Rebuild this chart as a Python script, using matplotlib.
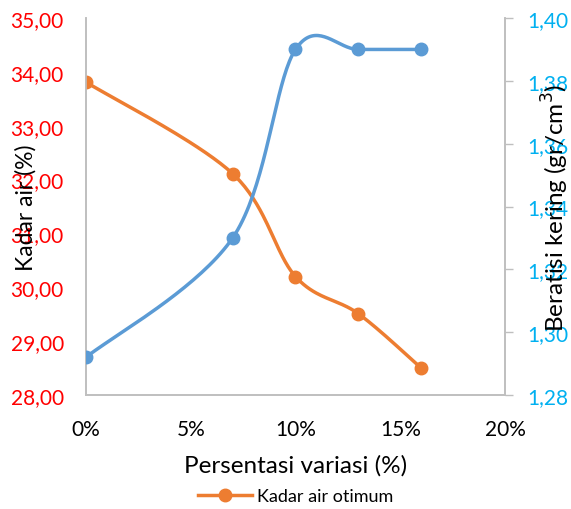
import numpy as np
import matplotlib.pyplot as plt

# data
variasi = [0.00, 0.07, 0.10, 0.13, 0.16]
kadar_air = [33.81, 32.11, 30.20, 29.51, 28.50]
berat_isi = [1.292, 1.330, 1.390, 1.390, 1.390]

x_ticks = [0.00, 0.05, 0.10, 0.15, 0.20]
x_labels = ['0%', '5%', '10%', '15%', '20%']
left_ticks = [28, 29, 30, 31, 32, 33, 34, 35]
right_ticks = [1.28, 1.30, 1.32, 1.34, 1.36, 1.38, 1.40]

ORANGE = '#ED7D31'
BLUE = '#5B9BD5'
GRID = '#BFBFBF'

plt.rcParams['font.family'] = ['Lato', 'DejaVu Sans']


def excel_smooth(xs, ys, xr, yr, n=40):
    # bezier smoothing like excel, done in normalised axis space
    px = (np.asarray(xs) - xr[0]) / (xr[1] - xr[0])
    py = (np.asarray(ys) - yr[0]) / (yr[1] - yr[0])
    P = np.column_stack([px, py])
    P = np.vstack([P[0], P, P[-1]])
    out = []
    t = np.linspace(0, 1, n)[:, None]
    for i in range(1, len(P) - 2):
        p0, p3 = P[i], P[i + 1]
        c1 = p0 + (P[i + 1] - P[i - 1]) / 6
        c2 = p3 - (P[i + 2] - P[i]) / 6
        seg = ((1 - t) ** 3) * p0 + 3 * ((1 - t) ** 2) * t * c1 + 3 * (1 - t) * t ** 2 * c2 + t ** 3 * p3
        out.append(seg)
    out = np.vstack(out)
    return (out[:, 0] * (xr[1] - xr[0]) + xr[0],
            out[:, 1] * (yr[1] - yr[0]) + yr[0])


def comma(v):
    return ('%.2f' % v).replace('.', ',')


fig = plt.figure(figsize=(5.71, 5.10), dpi=100)
ax = fig.add_axes([0.1506, 0.2235, 0.7338, 0.7392])
ax2 = ax.twinx()

xr = (0, 0.2)
yl = (28, 35)
yr = (1.28, 1.40)

sx, sy = excel_smooth(variasi, kadar_air, xr, yl)
ax.plot(sx, sy, color=ORANGE, lw=2.5, zorder=3)
ax.plot(variasi, kadar_air, 'o', color=ORANGE, ms=9, zorder=4)

bx, by = excel_smooth(variasi, berat_isi, xr, yr)
ax2.plot(bx, by, color=BLUE, lw=2.5, zorder=3)
ax2.plot(variasi, berat_isi, 'o', color=BLUE, ms=9, zorder=4)

ax.set_xlim(*xr)
ax.set_ylim(*yl)
ax2.set_ylim(*yr)

ax.set_xticks(x_ticks)
ax.set_xticklabels(x_labels, fontsize=15)
ax.set_yticks(left_ticks)
ax.set_yticklabels([comma(v) for v in left_ticks], fontsize=15, color='red')
ax2.set_yticks(right_ticks)
ax2.set_yticklabels([comma(v) for v in right_ticks], fontsize=15, color='#00B0F0')

ax.tick_params(axis='x', length=0, pad=17)
ax.tick_params(axis='y', length=0, pad=16)
ax2.tick_params(axis='y', length=5.5, color=GRID, pad=10.5, width=1)

for a in (ax, ax2):
    a.spines['top'].set_visible(False)
    for s in ('left', 'right', 'bottom'):
        a.spines[s].set_color(GRID)
        a.spines[s].set_linewidth(1.2)

ax.set_xlabel('Persentasi variasi (%)', fontsize=17.5, labelpad=11)
ax.set_ylabel('Kadar air (%)', fontsize=16.5)
ax.yaxis.set_label_coords(-0.117, 0.5)
ax2.set_ylabel('Beratisi kering (gr/cm$^3$)', fontsize=17.5)
ax2.yaxis.set_label_coords(1.083, 0.5)

leg_handle = plt.Line2D([], [], color=ORANGE, lw=2.5, marker='o', ms=9)
fig.legend([leg_handle], ['Kadar air otimum'], loc='center', bbox_to_anchor=(0.518, 0.025),
           frameon=False, fontsize=13, handlelength=3.0, handletextpad=0.3)

fig.savefig('out.png', dpi=100)
